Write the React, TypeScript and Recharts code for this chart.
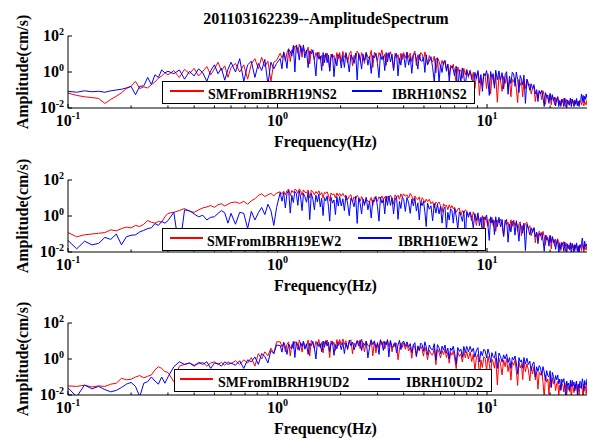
import { LineChart, Line, XAxis, YAxis, Legend } from 'recharts'

// frequency grid (Hz) shared by all six spectra
const freq = [
  0.1, 0.11, 0.12, 0.13, 0.14, 0.15, 0.16, 0.17, 0.18, 0.19, 0.2, 0.21, 0.22, 0.23, 0.24, 0.25, 0.26, 0.27, 0.28, 0.29, 0.3,
  0.32, 0.34, 0.36, 0.38, 0.4, 0.42, 0.44, 0.46, 0.48, 0.5, 0.52, 0.54, 0.56, 0.58, 0.6,
  0.63, 0.66, 0.69, 0.72, 0.75, 0.78, 0.81, 0.84, 0.87, 0.9, 0.93, 0.96, 0.99,
  1.03, 1.05, 1.07, 1.09, 1.11, 1.13, 1.15, 1.17, 1.19, 1.21,
  1.23, 1.25, 1.27, 1.29, 1.31, 1.33, 1.35, 1.375, 1.4, 1.425,
  1.45, 1.475, 1.5, 1.525, 1.55, 1.575, 1.6, 1.625, 1.65, 1.675,
  1.7, 1.725, 1.75, 1.775, 1.8, 1.83, 1.86, 1.89, 1.92, 1.95,
  1.98, 2.015,
  2.05, 2.085, 2.12, 2.16, 2.2, 2.24, 2.28, 2.32, 2.36, 2.4,
  2.44, 2.48, 2.52, 2.56, 2.6, 2.65, 2.7, 2.75, 2.8, 2.85,
  2.9, 2.95, 3.0, 3.05, 3.1, 3.15, 3.2, 3.25, 3.3, 3.35,
  3.4, 3.46, 3.52, 3.58, 3.64, 3.7, 3.76, 3.82, 3.88, 3.94,
  4.0, 4.075,
  4.15, 4.225, 4.3, 4.375, 4.45, 4.525, 4.6, 4.675, 4.75, 4.825,
  4.9, 4.975, 5.05, 5.125, 5.2, 5.3, 5.4, 5.5, 5.6, 5.7,
  5.8, 5.9, 6.0, 6.1, 6.2, 6.3, 6.4, 6.5, 6.6, 6.7,
  6.8, 6.9, 7.0, 7.125, 7.25, 7.375, 7.5, 7.625, 7.75, 7.875,
  8.0, 8.15,
  8.3, 8.45, 8.6, 8.75, 8.9, 9.05, 9.2, 9.35, 9.5, 9.65,
  9.8, 9.95, 10.1, 10.25, 10.4, 10.55, 10.7, 10.85, 11.0, 11.2,
  11.4, 11.6, 11.8, 12.0, 12.2, 12.4, 12.6, 12.8, 13.0, 13.2,
  13.4, 13.6, 13.8, 14.0, 14.2, 14.4, 14.6, 14.8, 15.0, 15.25,
  15.5, 15.75, 16, 16.25, 16.5, 16.75, 17, 17.25, 17.5, 17.75,
  18, 18.25, 18.5, 18.75, 19, 19.25, 19.5, 19.75, 20, 20.25,
  20.5, 20.75, 21, 21.25, 21.5, 21.75, 22, 22.25, 22.5, 22.75,
  23, 23.25, 23.5, 23.75, 24, 24.25, 24.5, 24.75, 25, 25.25,
  25.5, 25.75, 26, 26.25, 26.5, 26.75, 27, 27.25, 27.5, 27.75,
  28, 28.25, 28.5, 28.75, 29, 29.25, 29.5, 29.75, 30,
]

const nsRed = [
  0.068, 0.05, 0.042, 0.038, 0.034, 0.018, 0.03, 0.045, 0.07, 0.12, 0.16, 0.3, 0.12, 0.15, 0.13, 0.2, 0.28, 0.45, 0.6, 0.9, 0.7,
  1.2, 0.5, 1.4, 0.8, 1.6, 0.6, 1.1, 2.0, 0.7, 1.5, 3.5, 1.2, 2.2, 0.5, 1.8,
  3.0, 1.0, 2.5, 0.4, 2.8, 5.5, 1.5, 6.5, 2.0, 4.0, 0.3, 3.5, 4.5,
  11, 6, 11, 4, 12, 20, 3.8, 17, 11, 28,
  24, 11, 35, 19, 6.6, 24, 13.5, 11, 24, 2.8,
  18, 11, 5, 12, 7, 13, 4.5, 8.4, 2.2, 9,
  6.6, 11.4, 4.8, 1.2, 10, 6, 8.4, 3, 12, 5.4,
  12, 3.6,
  14, 6.5, 9.6, 3.2, 9.8, 14.4, 2.2, 8.4, 5.6, 14.5,
  10.5, 4.2, 12, 7.2, 3, 12, 6.8, 5.6, 16, 1.8,
  12.6, 7.8, 4.2, 12, 8, 17, 5.2, 9.8, 2.3, 10.5,
  7.2, 13.3, 6, 1.4, 11, 6, 9.1, 3, 11, 5,
  12, 6,
  13, 6.5, 11, 3.8, 10.4, 14.4, 2.3, 9, 4.9, 12,
  9.8, 4.2, 13, 7.2, 2.4, 8.3, 4.5, 3.6, 7.6, 0.9,
  6.3, 3.9, 1.8, 4.4, 2.5, 4.6, 1.5, 2.7, 0.63, 2.4,
  1.65, 2.7, 1.04, 0.24, 1.9, 1.0, 1.33, 0.45, 1.6, 0.68,
  1.4, 0.5,
  1.3, 0.38, 0.96, 0.12, 0.66, 0.95, 0.05, 0.48, 0.18, 0.77,
  0.6, 0.12, 0.8, 0.3, 0.06, 0.53, 0.35, 0.18, 0.67, 0.021,
  0.63, 0.32, 0.084, 0.56, 0.23, 0.65, 0.12, 0.36, 0.042, 0.39,
  0.28, 0.48, 0.125, 0.02, 0.38, 0.18, 0.29, 0.042, 0.4, 0.12,
  0.38, 0.165, 0.22, 0.06, 0.13, 0.15, 0.023, 0.078, 0.042, 0.094,
  0.07, 0.029, 0.09, 0.047, 0.016, 0.056, 0.032, 0.026, 0.057, 0.015,
  0.05, 0.031, 0.015, 0.038, 0.023, 0.044, 0.015, 0.028, 0.012, 0.028,
  0.02, 0.034, 0.015, 0.012, 0.03, 0.018, 0.025, 0.014, 0.035, 0.017,
  0.032, 0.018, 0.026, 0.014, 0.021, 0.029, 0.013, 0.019, 0.015, 0.027,
  0.022, 0.015, 0.032, 0.018, 0.013, 0.024, 0.016, 0.015, 0.03,
]
const nsBlue = [
  0.085, 0.075, 0.09, 0.08, 0.085, 0.075, 0.09, 0.1, 0.11, 0.13, 0.16, 0.055, 0.16, 0.17, 0.5, 0.2, 0.7, 0.5, 1.3, 0.9, 1.1,
  0.8, 1.3, 0.4, 1.1, 0.6, 1.5, 0.9, 0.3, 1.2, 2.5, 0.8, 1.6, 0.35, 1.4, 3.5,
  1.0, 5.5, 0.3, 2.5, 4.0, 0.5, 3.0, 1.2, 5.0, 0.2, 3.5, 1.5, 3.0,
  5.6, 1.5, 13, 6.4, 1.6, 18, 14, 7.5, 30, 1.0,
  32, 17, 4.6, 29, 12, 32, 6, 17, 1.75, 15,
  10, 17, 4, 0.6, 12, 5.2, 7.8, 1.2, 12, 3.3,
  11, 3.3, 8.8, 1.1, 6.6, 10, 0.55, 5.5, 2.2, 9.4,
  7.7, 1.65,
  8.4, 1.8, 12, 4.8, 1.0, 9, 6, 3, 11.4, 0.36,
  10.8, 5.4, 1.44, 9.6, 4.2, 12, 2.4, 7.2, 0.84, 8.4,
  6, 11.4, 3, 0.48, 10.2, 4.8, 7.8, 1.2, 12, 3.6,
  12, 3.6, 9.6, 1.2, 7.2, 10.8, 0.6, 6, 2.4, 10.2,
  8.4, 1.8,
  12, 2.4, 7.2, 0.84, 8.4, 10.8, 5.4, 1.44, 9.6, 4.2,
  4, 6.5, 0.95, 9, 2.55, 4, 7.1, 1.75, 0.28, 5.5,
  5.4, 0.28, 2.5, 0.94, 3.7, 4, 1.1, 2.7, 0.31, 1.74,
  2.1, 1.3, 0.6, 2.1, 0.06, 1.33, 0.27, 1.7, 0.6, 0.11,
  1.26, 0.63,
  1.08, 0.54, 0.144, 0.96, 0.42, 1.2, 0.24, 0.72, 0.084, 0.84,
  0.63, 1.19, 0.31, 0.05, 1.06, 0.5, 0.81, 0.125, 1.25, 0.375,
  1.15, 0.35, 0.92, 0.115, 0.69, 1.04, 0.058, 0.58, 0.23, 0.98,
  0.77, 0.16, 1.0, 0.38, 0.072, 0.64, 0.4, 0.19, 0.67, 0.018,
  0.4, 0.23, 0.096, 0.22, 0.115, 0.2, 0.06, 0.105, 0.023, 0.09,
  0.06, 0.095, 0.038, 0.012, 0.072, 0.04, 0.053, 0.018, 0.065, 0.027,
  0.055, 0.026, 0.04, 0.013, 0.03, 0.04, 0.012, 0.024, 0.014, 0.032,
  0.025, 0.012, 0.036, 0.02, 0.01, 0.027, 0.016, 0.015, 0.034, 0.012,
  0.031, 0.02, 0.012, 0.027, 0.017, 0.034, 0.013, 0.024, 0.012, 0.026,
  0.03, 0.06, 0.025, 0.05, 0.02, 0.045, 0.03, 0.06, 0.035,
]

const ewRed = [
  0.12, 0.07, 0.09, 0.1, 0.11, 0.12, 0.17, 0.15, 0.2, 0.24, 0.22, 0.3, 0.26, 0.35, 0.56, 0.45, 0.4, 0.5, 0.45, 0.9, 1.4,
  1.6, 2.0, 2.6, 1.8, 1.6, 2.2, 2.8, 3.2, 3.8, 3.0, 4.2, 4.8, 3.6, 4.5, 5.5,
  6.0, 5.0, 6.5, 4.5, 7, 9, 14, 17, 12, 15, 18, 13, 19,
  22, 17, 24, 15, 26, 31, 13.6, 26, 20, 30,
  28, 18, 32, 24, 14, 28, 21, 19, 28, 10,
  27, 22, 15, 23, 17.5, 25, 15, 20, 10, 21,
  18, 22, 14, 6.6, 19, 15, 17, 10, 19, 13,
  18, 12.6,
  18, 12, 14.4, 8, 12.8, 15.2, 6, 11.5, 9, 13.8,
  11, 6.6, 12, 8.1, 5, 8.7, 6.7, 6.3, 10.7, 3.9,
  11.4, 9.2, 6.6, 11.7, 9.1, 13, 8.4, 11.8, 5.9, 12.2,
  10.4, 14.5, 9.5, 4.5, 14.7, 11.2, 14.3, 8.5, 17, 11.4,
  17, 12.6,
  15, 10, 18, 12.6, 7.2, 13, 9.4, 8.2, 11.6, 4,
  10.5, 8.1, 5.5, 8.6, 6.3, 8.5, 4.8, 6.3, 2.9, 5.9,
  4.8, 6, 3.8, 1.65, 4.8, 3.5, 4, 2.25, 4.2, 2.7,
  3.8, 2.5, 3.1, 1.6, 2.4, 2.75, 1.1, 2.0, 1.5, 2.2,
  1.9, 1.2,
  1.26, 0.53, 1.7, 0.88, 0.3, 1.05, 0.59, 0.48, 1.05, 0.126,
  0.9, 0.57, 0.27, 0.7, 0.43, 0.85, 0.29, 0.56, 0.14, 0.59,
  0.41, 0.68, 0.28, 0.07, 0.6, 0.34, 0.46, 0.16, 0.62, 0.27,
  0.6, 0.29, 0.45, 0.14, 0.36, 0.48, 0.08, 0.3, 0.17, 0.39,
  0.45, 0.2, 0.29, 0.08, 0.18, 0.225, 0.033, 0.12, 0.063, 0.145,
  0.11, 0.045, 0.14, 0.072, 0.024, 0.083, 0.045, 0.038, 0.086, 0.015,
  0.072, 0.045, 0.021, 0.052, 0.03, 0.055, 0.0175, 0.034, 0.012, 0.033,
  0.023, 0.038, 0.016, 0.011, 0.031, 0.018, 0.024, 0.013, 0.032, 0.015,
  0.03, 0.016, 0.024, 0.012, 0.02, 0.027, 0.011, 0.018, 0.013, 0.026,
  0.021, 0.012, 0.03, 0.017, 0.01, 0.023, 0.014, 0.013, 0.028,
]
const ewBlue = [
  0.044, 0.015, 0.04, 0.025, 0.03, 0.065, 0.05, 0.1, 0.025, 0.07, 0.085, 0.09, 0.13, 0.16, 0.2, 0.22, 0.38, 0.3, 0.5, 0.4, 0.55,
  1.6, 0.013, 2.2, 2.0, 1.3, 0.9, 1.1, 0.6, 0.85, 0.9, 1.4, 2.0, 1.5, 0.4, 1.4,
  0.35, 1.6, 1.4, 0.2, 1.8, 0.6, 1.5, 3.0, 1.2, 4.5, 2.0, 0.3, 3.0,
  20, 6.6, 20, 2.8, 18, 27, 1.45, 14, 5.6, 23,
  18, 3.9, 25, 10, 2, 18, 12, 5.8, 21, 0.63,
  18, 8.6, 2.2, 14.4, 6, 17, 3.2, 9.6, 1.05, 10.5,
  7, 13.3, 3.5, 0.52, 11, 5.2, 7.8, 1.2, 12, 3.6,
  12, 3.6,
  9.1, 2, 13, 5.2, 1.04, 9.75, 6.5, 3.25, 12.4, 0.39,
  9.9, 5, 1.3, 8.8, 3.85, 11, 2.2, 6.6, 0.77, 7.7,
  6.5, 12.4, 3.25, 0.52, 11, 5.2, 8.5, 1.3, 13, 3.9,
  13, 3.9, 10.4, 1.3, 7.8, 11.7, 0.65, 6.5, 2.6, 11,
  8.4, 1.8,
  10.8, 5.4, 1.4, 8.8, 3.7, 10, 1.9, 5.4, 0.6, 5.6,
  3.75, 6.65, 1.7, 0.26, 5.3, 2.4, 3.7, 0.54, 5, 1.44,
  4.6, 1.3, 3.4, 0.4, 2.3, 3.2, 0.17, 1.6, 0.6, 2.5,
  1.96, 0.4, 2.6, 1.0, 0.19, 1.7, 1.1, 0.5, 1.9, 0.06,
  1.7, 0.85,
  1.7, 0.83, 0.22, 1.36, 0.56, 1.5, 0.29, 0.84, 0.095, 0.91,
  0.63, 1.14, 0.29, 0.044, 0.9, 0.4, 0.62, 0.092, 0.9, 0.26,
  0.85, 0.25, 0.64, 0.078, 0.45, 0.65, 0.035, 0.34, 0.13, 0.53,
  0.42, 0.086, 0.55, 0.21, 0.04, 0.36, 0.23, 0.11, 0.4, 0.012,
  0.34, 0.2, 0.09, 0.22, 0.12, 0.22, 0.07, 0.126, 0.029, 0.11,
  0.077, 0.12, 0.048, 0.011, 0.085, 0.048, 0.063, 0.021, 0.08, 0.034,
  0.07, 0.033, 0.048, 0.014, 0.034, 0.045, 0.0072, 0.027, 0.015, 0.034,
  0.027, 0.011, 0.036, 0.02, 0.0075, 0.027, 0.016, 0.014, 0.033, 0.006,
  0.029, 0.019, 0.0096, 0.026, 0.016, 0.032, 0.011, 0.022, 0.006, 0.024,
  0.018, 0.03, 0.06, 0.025, 0.014, 0.04, 0.02, 0.028, 0.022,
]

const udRed = [
  0.032, 0.03, 0.035, 0.028, 0.032, 0.03, 0.04, 0.045, 0.085, 0.07, 0.075, 0.1, 0.12, 0.09, 0.11, 0.13, 0.25, 0.37, 0.3, 0.2, 0.18,
  0.055, 0.4, 0.5, 0.6, 0.45, 0.55, 0.65, 0.4, 0.6, 0.7, 0.5, 0.65, 0.45, 0.7, 0.55,
  0.8, 0.5, 0.9, 0.6, 1.2, 0.4, 2.0, 1.0, 2.5, 1.5, 4.0, 2.0, 9,
  9, 4.75, 8, 2.5, 6.5, 9, 1.5, 6.3, 3.85, 9.35,
  7.7, 3.3, 11.5, 6.3, 2.4, 9, 5.4, 4.8, 11.4, 1.44,
  10.8, 7.2, 3.6, 9.6, 6, 12, 4.2, 8.4, 2.2, 9,
  6.6, 11.4, 4.8, 1.2, 10.2, 6, 8.4, 3, 12, 5.4,
  12, 6,
  13, 6.5, 10.4, 3.25, 8.5, 11.7, 1.95, 7.8, 4.55, 11,
  8.75, 3.75, 12.5, 6.9, 2.5, 9.4, 5.6, 5, 11.9, 1.5,
  9, 2.2, 8.4, 4.2, 12, 6, 9.6, 3.6, 7.2, 10.8,
  5, 10.5, 2.5, 7, 4.75, 7.65, 0.9, 3.4, 8, 4.4,
  8, 3.5,
  6.8, 2.8, 4.7, 1.1, 6.3, 4.2, 1.5, 4.6, 2.75, 5.2,
  3.5, 1.44, 4.6, 2.5, 0.9, 3.2, 1.9, 1.64, 3.8, 0.48,
  3.6, 2.3, 1.14, 3.0, 1.8, 3.5, 1.2, 2.3, 0.58, 2.3,
  1.65, 2.85, 1.16, 0.29, 2.4, 1.4, 1.9, 0.68, 2.6, 1.17,
  2.6, 1.0,
  2.5, 0.72, 1.84, 0.22, 1.26, 1.8, 0.095, 0.9, 0.34, 1.36,
  1.1, 0.22, 1.45, 0.56, 0.11, 0.98, 0.65, 0.31, 1.14, 0.036,
  1.08, 0.52, 0.13, 0.88, 0.37, 1.05, 0.2, 0.6, 0.067, 0.67,
  0.45, 0.86, 0.21, 0.034, 0.68, 0.32, 0.49, 0.072, 0.7, 0.2,
  0.54, 0.25, 0.06, 0.37, 0.15, 0.38, 0.07, 0.19, 0.021, 0.19,
  0.125, 0.21, 0.05, 0.0068, 0.13, 0.052, 0.078, 0.011, 0.1, 0.027,
  0.085, 0.04, 0.06, 0.0175, 0.043, 0.057, 0.009, 0.035, 0.02, 0.046,
  0.036, 0.015, 0.05, 0.027, 0.0096, 0.035, 0.021, 0.018, 0.043, 0.0054,
  0.04, 0.027, 0.0135, 0.036, 0.0225, 0.045, 0.016, 0.0315, 0.008, 0.034,
  0.025, 0.043, 0.018, 0.0045, 0.038, 0.0225, 0.0315, 0.011, 0.045,
]
const udBlue = [
  0.025, 0.008, 0.036, 0.022, 0.03, 0.02, 0.015, 0.018, 0.026, 0.04, 0.05, 0.03, 0.008, 0.045, 0.055, 0.1, 0.06, 0.04, 0.1, 0.045, 0.1,
  0.37, 0.7, 0.5, 0.6, 0.4, 0.65, 0.5, 0.7, 0.3, 0.6, 0.55, 0.4, 0.7, 0.5, 0.6,
  0.45, 0.8, 0.3, 0.9, 0.7, 1.3, 0.5, 2.0, 1.4, 0.6, 3.0, 2.0, 6.0,
  5.6, 2.4, 8.5, 5, 1.8, 6.75, 4.3, 3.8, 9.5, 1.2,
  9, 6, 3, 8, 5, 10, 3.5, 7, 1.8, 7.5,
  5.5, 9.5, 4, 1, 8.5, 5, 7, 2.5, 10, 4.5,
  10.5, 5.25, 8.4, 2.6, 6.8, 9.45, 1.6, 6.3, 3.7, 8.9,
  7.7, 3.3,
  8.25, 2, 7.7, 3.85, 11, 5.5, 8.8, 3.3, 6.6, 9.9,
  5.2, 11.5, 2.9, 8, 5.75, 9.8, 1.15, 4.6, 10.9, 6.3,
  10.2, 4.2, 7.2, 1.8, 10.8, 7.8, 3, 9.6, 6, 12,
  1.3, 10.5, 4.4, 5, 8.25, 2.2, 6, 11, 3.3, 7.7,
  10, 5,
  9, 4.5, 7.2, 2.25, 5.85, 8.1, 1.35, 5.4, 3.15, 7.65,
  6.3, 2.7, 9, 4.7, 1.7, 6, 3.6, 3.2, 7.1, 0.9,
  6.3, 4.2, 2, 5.2, 3.1, 6, 2.1, 4.1, 1, 4.1,
  3, 5.2, 2.2, 0.53, 4.4, 2.6, 3.6, 1.25, 5, 2.25,
  5, 2.5,
  5, 2.5, 4, 1.25, 3.1, 4.3, 0.7, 2.7, 1.5, 3.5,
  2.8, 1.14, 3.6, 1.9, 0.64, 2.25, 1.3, 1.12, 2.6, 0.3,
  2.16, 1.38, 0.66, 1.7, 1.0, 1.9, 0.63, 1.2, 0.3, 1.24,
  0.88, 1.47, 0.6, 0.145, 1.2, 0.68, 0.9, 0.31, 1.2, 0.52,
  1.1, 0.5, 0.76, 0.22, 0.53, 0.68, 0.1, 0.37, 0.2, 0.43,
  0.32, 0.126, 0.38, 0.19, 0.064, 0.225, 0.12, 0.1, 0.22, 0.026,
  0.18, 0.108, 0.048, 0.12, 0.07, 0.13, 0.042, 0.077, 0.018, 0.075,
  0.05, 0.081, 0.032, 0.0075, 0.06, 0.034, 0.046, 0.016, 0.065, 0.029,
  0.065, 0.033, 0.053, 0.017, 0.043, 0.06, 0.01, 0.04, 0.024, 0.058,
  0.053, 0.023, 0.08, 0.044, 0.016, 0.064, 0.038, 0.034, 0.081,
]

const xTicks = [0.1, 0.2, 0.3, 0.4, 0.5, 0.6, 0.7, 0.8, 0.9, 1, 2, 3, 4, 5, 6, 7, 8, 9, 10, 20]
const yTicks = [0.01, 1, 100]

const title = '201103162239--AmplitudeSpectrum'

const FONT = "'Liberation Serif', 'Times New Roman', serif"
const TOP_PAD = 30

// plot area tops on the page, and the legend box of each panel
const panels = [
  {
    top: 36, red: nsRed, blue: nsBlue, redName: 'SMFromIBRH19NS2', blueName: 'IBRH10NS2',
    lg: { left: 162, top: 81, w: 313, rl: [8, 42], rt: 46, bl: [190, 220], bt: 230 },
  },
  {
    top: 180, red: ewRed, blue: ewBlue, redName: 'SMFromIBRH19EW2', blueName: 'IBRH10EW2',
    lg: { left: 162, top: 228, w: 324, rl: [8, 41], rt: 45, bl: [196, 230], bt: 236 },
  },
  {
    top: 323, red: udRed, blue: udBlue, redName: 'SMFromIBRH19UD2', blueName: 'IBRH10UD2',
    lg: { left: 174, top: 369, w: 318, rl: [6, 39], rt: 44, bl: [194, 226], bt: 232 },
  },
]

function XTick({ x, y, payload }: any) {
  const lg = Math.log10(payload.value)
  const e = Math.round(lg)
  const major = Math.abs(lg - e) < 1e-6
  return (
    <g>
      <line x1={x} x2={x} y1={y} y2={y - (major ? 4 : 2.5)} stroke="#000" />
      {major && (
        <text x={x} y={y + 18} textAnchor="middle" fontFamily={FONT} fontWeight="bold" fontSize={16} fill="#000">
          10<tspan dy={-7} fontSize={10}>{e}</tspan>
        </text>
      )}
    </g>
  )
}

function YTick({ x, y, payload }: any) {
  const e = Math.round(Math.log10(payload.value))
  return (
    <g>
      <line x1={x} x2={x + 4} y1={y} y2={y} stroke="#000" />
      <text x={x - 4} y={y + 5} textAnchor="end" fontFamily={FONT} fontWeight="bold" fontSize={16} fill="#000">
        10<tspan dy={-6} fontSize={10}>{e}</tspan>
      </text>
    </g>
  )
}

function PanelLegend({ p }: any) {
  const { lg } = p
  return (
    <svg width={lg.w} height={23} style={{ display: 'block' }}>
      <rect x={0.5} y={0.5} width={lg.w - 1} height={22} fill="#fff" stroke="#000" />
      <rect x={lg.rl[0]} y={9} width={lg.rl[1] - lg.rl[0]} height={2} fill="#ff0000" />
      <text x={lg.rt} y={17.5} fontFamily={FONT} fontWeight="bold" fontSize={14} fill="#000">{p.redName}</text>
      <rect x={lg.bl[0]} y={9} width={lg.bl[1] - lg.bl[0]} height={2} fill="#0000ff" />
      <text x={lg.bt} y={17.5} fontFamily={FONT} fontWeight="bold" fontSize={14} fill="#000">{p.blueName}</text>
    </svg>
  )
}

function Panel({ p }: any) {
  const rows = freq.map((f, i) => ({ f, red: p.red[i], blue: p.blue[i] }))
  const chartTop = p.top - TOP_PAD
  return (
    <div style={{ position: 'absolute', left: 0, top: chartTop }}>
      <LineChart width={589} height={TOP_PAD + 72 + 44} data={rows} margin={{ top: TOP_PAD, right: 2, bottom: 0, left: 0 }}>
        <XAxis
          dataKey="f"
          type="number"
          scale="log"
          domain={[0.1, 30]}
          allowDataOverflow
          ticks={xTicks}
          interval={0}
          tick={<XTick />}
          tickLine={false}
          tickSize={0}
          tickMargin={0}
          height={44}
          axisLine={{ stroke: '#000' }}
          label={({ viewBox }: any) => (
            <text x={viewBox.x + viewBox.width / 2 - 2} y={viewBox.y + 39} textAnchor="middle" fontFamily={FONT} fontWeight="bold" fontSize={16} fill="#000">
              Frequency(Hz)
            </text>
          )}
        />
        <YAxis
          type="number"
          scale="log"
          domain={[0.01, 100]}
          allowDataOverflow
          ticks={yTicks}
          interval={0}
          tick={<YTick />}
          tickLine={false}
          tickSize={0}
          tickMargin={0}
          width={68}
          axisLine={{ stroke: '#000' }}
          label={({ viewBox }: any) => {
            const cy = viewBox.y + viewBox.height / 2
            return (
              <text x={28} y={cy} transform={`rotate(-90, 28, ${cy})`} textAnchor="middle" fontFamily={FONT} fontWeight="bold" fontSize={16} fill="#000">
                Amplitude(cm/s)
              </text>
            )
          }}
        />
        <Line dataKey="red" stroke="#ff0000" strokeWidth={1} dot={false} isAnimationActive={false} />
        <Line dataKey="blue" stroke="#0000ff" strokeWidth={1} dot={false} isAnimationActive={false} />
        <Legend
          layout="vertical"
          align="center"
          verticalAlign="middle"
          wrapperStyle={{ left: p.lg.left, top: p.lg.top - chartTop, width: p.lg.w, height: 23 }}
          content={() => <PanelLegend p={p} />}
        />
      </LineChart>
    </div>
  )
}

export default function App() {
  return (
    <div style={{ position: 'absolute', left: 0, top: 0, width: 589, height: 439, background: '#fff', overflow: 'hidden' }}>
      {panels.map((p) => (
        <Panel key={p.redName} p={p} />
      ))}
      <svg width={589} height={30} style={{ position: 'absolute', left: 0, top: 0 }}>
        <text x={326} y={24} textAnchor="middle" fontFamily={FONT} fontWeight="bold" fontSize={16} fill="#000">
          {title}
        </text>
      </svg>
    </div>
  )
}
